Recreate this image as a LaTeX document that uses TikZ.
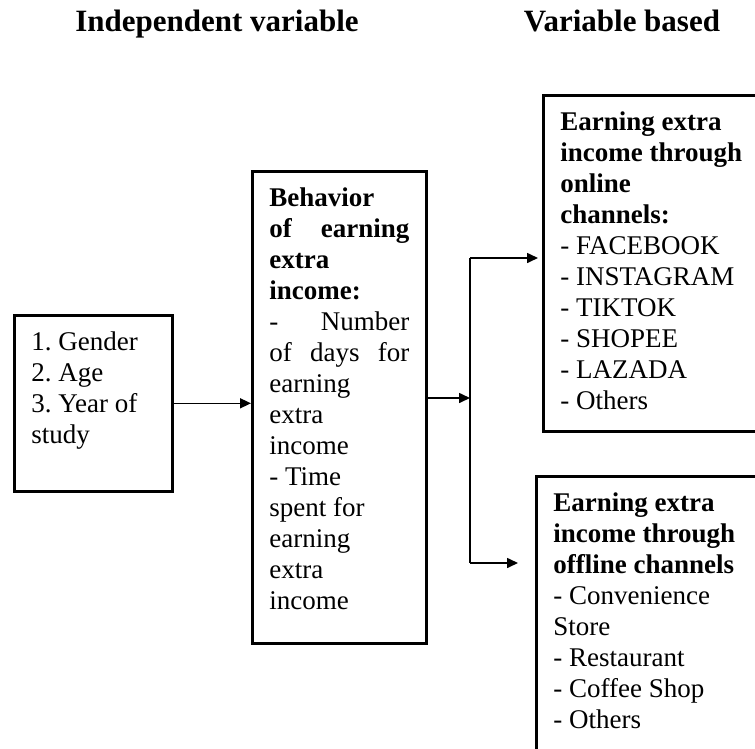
\documentclass[tikz,border=0pt]{standalone}
\usepackage{fontspec}
\setmainfont{Liberation Serif}
\usetikzlibrary{arrows.meta, positioning}

\begin{document}
\begin{tikzpicture}[
  x=1pt, y=-1pt,
  box/.style = {rectangle, draw, line width=2.6pt, anchor=north west,
                align=flush left, inner xsep=17pt, inner ysep=15pt,
                text height=20pt, font=\fontsize{27}{31}\selectfont\frenchspacing},
  heading/.style = {anchor=base, font=\fontsize{31}{37}\selectfont\bfseries},
  arr/.style = {-{Triangle[length=11pt, width=10pt]}, line width=1.6pt},
  link/.style = {line width=1.6pt},
]
\useasboundingbox (0,0) rectangle (755,749);

\node[heading] (indep) at (217,32) {Independent variable};
\node[heading] (based) at (622,32) {Variable based};

\node[box, text width=124pt, text depth=126pt] (factors) at (13,314)
  {1. Gender\\2. Age\\3. Year of\\study};
\node[box, text width=140pt, text depth=422pt] (behavior) at (251,170)
  {\textbf{Behavior}\\\textbf{of\hfill earning}\\\textbf{extra}\\\textbf{income:}\\
   -\hfill Number\\of\hfill days\hfill for\\earning\\extra\\income\\
   - Time\\spent for\\earning\\extra\\income};
\node[box, text width=194pt, text depth=286pt] (online) at (542,94)
  {\textbf{Earning extra}\\\textbf{income through}\\\textbf{online}\\\textbf{channels:}\\
   - FACEBOOK\\- INSTAGRAM\\- TIKTOK\\- SHOPEE\\- LAZADA\\- Others};
\node[box, text width=210pt, text depth=275pt] (offline) at (535,475)
  {\textbf{Earning extra}\\\textbf{income through}\\\textbf{offline channels}\\
   - Convenience\\Store\\- Restaurant\\- Coffee Shop\\- Others};

\coordinate (split) at (470,398);
\coordinate (upper) at (470,258);
\coordinate (lower) at (470,563);

\draw[arr] (factors.east) -- (factors.east -| behavior.west);
\draw[arr] (behavior.east |- split) -- (split);
\draw[link] (upper) -- (lower);
\draw[arr] (upper) -- ([xshift=-4pt]online.west |- upper);
\draw[arr] (lower) -- ([xshift=-17pt]offline.west |- lower);

\end{tikzpicture}
\end{document}
